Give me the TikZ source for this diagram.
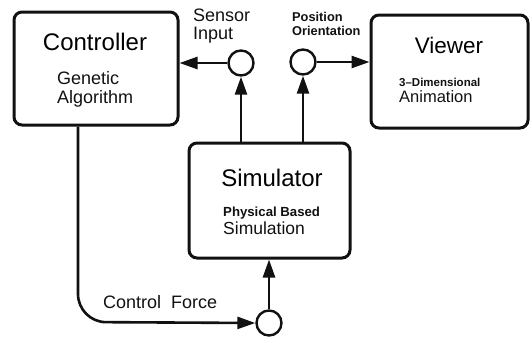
\documentclass[tikz,border=0pt]{standalone}
\usepackage{fontspec}
\setmainfont{Liberation Sans}
\usetikzlibrary{arrows.meta}
\definecolor{InkBlack}{HTML}{111111}
\newcommand{\fsz}[1]{\fontsize{#1}{#1}\selectfont}
\tikzset{
  unitbox/.style={draw=InkBlack,line width=3pt,rounded corners=8pt,
                  inner sep=0pt},
  junction/.style={circle,draw=InkBlack,line width=2.4pt,minimum size=25pt,
                   inner sep=0pt},
  flow/.style={InkBlack,line width=2.6pt,
               -{Triangle[length=18pt,width=12pt]}},
  boxtitle/.style={inner sep=0pt,font=\fsz{24}},
  boxnote/.style={anchor=west,inner sep=0pt,align=left,text=InkBlack}
}
\begin{document}
\begin{tikzpicture}[x=1pt,y=-1pt]
\path[use as bounding box] (0,0) rectangle (531,338);
% the three units
\node[unitbox,minimum width=164pt,minimum height=113pt] (ctrl) at (96,68.5) {};
\node[unitbox,minimum width=157pt,minimum height=113pt] (view) at (449.5,71.5) {};
\node[unitbox,minimum width=161pt,minimum height=115pt] (sim) at (269.5,200.5) {};
\node[boxtitle] (ctrlT) at (95,42) {Controller};
\node[boxnote,font=\fsz{18}] (ctrlN) at (57,89)
      {Genetic\\[1pt]Algorithm};
\node[boxtitle,font=\fsz{22.5}] (viewT) at (449,45) {Viewer};
\node[boxnote] (viewN) at (399,90)
      {{\fsz{11.5}\bfseries 3--Dimensional}\\[3pt]{\fsz{16.5}Animation}};
\node[boxtitle] (simT) at (272,178) {Simulator};
\node[boxnote] (simN) at (223,221)
      {{\fsz{13.2}\bfseries Physical Based}\\[2pt]{\fsz{17.5}Simulation}};
% junctions and their labels
\node[junction] (sens) at (241,63) {};
\node[junction] (pose) at (303,62) {};
\node[junction] (force) at (269,323) {};
\node[boxnote,font=\fsz{18}] (sensL) at (193,26) {Sensor\\[0pt]Input};
\node[boxnote,font=\fsz{12.8}\bfseries] (poseL) at (292,24)
      {Position\\[1pt]Orientation};
\node[boxnote,font=\fsz{18}] (forceL) at (103,302) {Control\ \ Force};
\coordinate (bend) at (78,322);
% signal flow
\draw[flow] (sens.west) -- (ctrl.east |- sens.west);
\draw[flow] (sens.south |- sim.north) -- (sens.south);
\draw[flow] (pose.south |- sim.north) -- (pose.south);
\draw[flow] (pose.east) -- (view.west |- pose.east);
\draw[flow,rounded corners=28pt] (bend |- ctrl.south) -- (bend) -- (force.west);
\draw[flow] (force.north) -- (sim.south -| force.north);
\end{tikzpicture}
\end{document}
